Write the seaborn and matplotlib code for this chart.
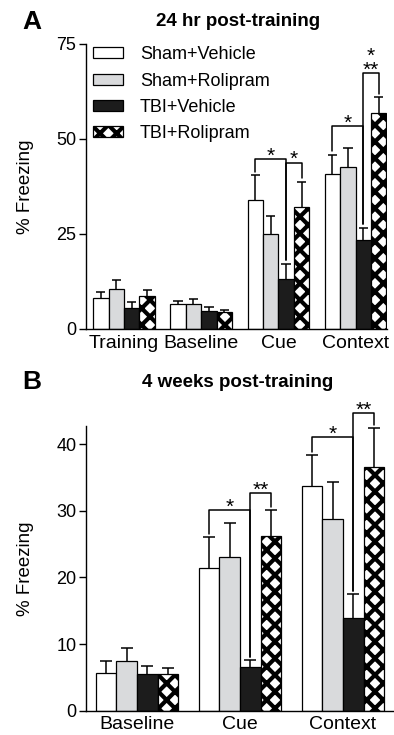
import matplotlib
matplotlib.use('Agg')
import matplotlib.pyplot as plt
import seaborn as sns
import numpy as np
import pandas as pd

# Datos (media y SEM)
groups = ['Sham+Vehicle', 'Sham+Rolipram', 'TBI+Vehicle', 'TBI+Rolipram']
colors = ['white', '#d9dadc', '#1c1c1c', 'white']

# Panel A: 24 hr post-training
phases_a = ['Training', 'Baseline', 'Cue', 'Context']
sham_veh_a = [8.1, 6.6, 33.9, 40.9]
sham_rol_a = [10.4, 6.6, 25.1, 42.5]
tbi_veh_a = [5.6, 4.7, 13.2, 23.5]
tbi_rol_a = [8.8, 4.4, 32.2, 56.8]
sham_veh_a_sem = [1.7, 0.8, 6.5, 5.0]
sham_rol_a_sem = [2.5, 1.2, 4.5, 5.1]
tbi_veh_a_sem = [1.4, 1.0, 4.0, 3.1]
tbi_rol_a_sem = [1.5, 0.6, 6.5, 4.2]
ticks_a = [0, 25, 50, 75]
# (fase, barra izq, barra der, altura, etiqueta)
sig_a = [('Cue', 0, 2, 44.7, '*'), ('Cue', 2, 3, 43.8, '*'),
         ('Context', 0, 2, 53.5, '*'), ('Context', 2, 3, 67.3, '*\n**')]

# Panel B: 4 weeks post-training
phases_b = ['Baseline', 'Cue', 'Context']
sham_veh_b = [5.7, 21.45, 33.75]
sham_rol_b = [7.5, 23.05, 28.7]
tbi_veh_b = [5.5, 6.5, 13.85]
tbi_rol_b = [5.45, 26.25, 36.6]
sham_veh_b_sem = [1.8, 4.55, 4.6]
sham_rol_b_sem = [1.95, 5.1, 5.55]
tbi_veh_b_sem = [1.25, 1.1, 3.65]
tbi_rol_b_sem = [1.0, 3.85, 5.8]
ticks_b = [0, 10, 20, 30, 40]
sig_b = [('Cue', 0, 2, 30.1, '*'), ('Cue', 2, 3, 32.6, '**'),
         ('Context', 0, 2, 41.1, '*'), ('Context', 2, 3, 44.7, '**')]

# Estilo
sns.set_style("ticks")
plt.rcParams['font.family'] = ['Liberation Sans', 'DejaVu Sans']
plt.rcParams['hatch.linewidth'] = 3.0
plt.rcParams['axes.linewidth'] = 1.0
plt.rcParams['axes.edgecolor'] = 'black'
plt.rcParams['text.color'] = 'black'
plt.rcParams['axes.labelcolor'] = 'black'
plt.rcParams['xtick.color'] = 'black'
plt.rcParams['ytick.color'] = 'black'


def long_df(phases, series):
    rows = []
    for g, vals in zip(groups, series):
        for p, v in zip(phases, vals):
            rows.append({'phase': p, 'group': g, 'freezing': v})
    return pd.DataFrame(rows)


def draw_panel(ax, phases, series, sems, ylim, ticks, sigs, show_legend):
    df = long_df(phases, series)
    sns.barplot(data=df, x='phase', y='freezing', hue='group', order=phases,
                hue_order=groups, palette=colors, saturation=1, errorbar=None,
                width=0.8, edgecolor='black', linewidth=0.9, ax=ax,
                legend=False)
    for p in ax.containers[3].patches:
        p.set_hatch('xx')
        p.set_edgecolor('black')

    # Barras de error (solo hacia arriba)
    tops = {}
    for gi, cont in enumerate(ax.containers):
        for ci, p in enumerate(cont.patches):
            xc = p.get_x() + p.get_width() / 2
            h = p.get_height()
            e = sems[gi][ci]
            hw = p.get_width() * 0.3
            ax.vlines(xc, h, h + e, color='black', lw=1.1, zorder=3)
            ax.hlines(h + e, xc - hw, xc + hw, color='black', lw=1.1, zorder=3)
            tops[(phases[ci], gi)] = (xc, h + e)

    # Corchetes de significancia
    gap = ylim * 0.012
    for ph, g1, g2, yb, lab in sigs:
        x1, t1 = tops[(ph, g1)]
        x2, t2 = tops[(ph, g2)]
        ax.plot([x1, x1, x2, x2], [t1 + gap, yb, yb, t2 + gap], color='black',
                lw=1.1, clip_on=False, zorder=4)
        ax.annotate(lab, xy=((x1 + x2) / 2, yb), xytext=(0, -2),
                    textcoords='offset points', ha='center', va='baseline',
                    fontsize=15, linespacing=0.65, annotation_clip=False)

    ax.set_ylim(0, ylim)
    ax.set_yticks(ticks)
    ax.set_xlabel('')
    ax.set_ylabel('% Freezing', fontsize=13.5)
    ax.tick_params(axis='y', labelsize=13, length=5, width=1.0, pad=2)
    ax.tick_params(axis='x', labelsize=14, length=0, pad=4)
    sns.despine(ax=ax)

    if show_legend:
        handles = [c.patches[0] for c in ax.containers]
        ax.legend(handles, groups, loc='upper left', bbox_to_anchor=(0.012, 1.005),
                  frameon=False, fontsize=13, handlelength=1.66,
                  handleheight=0.55, handletextpad=0.92, labelspacing=0.52,
                  borderpad=0.2, borderaxespad=0.0)


fig = plt.figure(figsize=(3.94, 7.35), dpi=100)
ax_a = fig.add_axes([0.2183, 0.5524, 0.764, 0.3878])
ax_b = fig.add_axes([0.2183, 0.0331, 0.7817, 0.3873])

draw_panel(ax_a, phases_a, [sham_veh_a, sham_rol_a, tbi_veh_a, tbi_rol_a],
           [sham_veh_a_sem, sham_rol_a_sem, tbi_veh_a_sem, tbi_rol_a_sem],
           75, ticks_a, sig_a, True)
ax_a.set_xlim(-0.492, 3.407)
ax_a.yaxis.set_label_coords(-0.173, 0.5)

draw_panel(ax_b, phases_b, [sham_veh_b, sham_rol_b, tbi_veh_b, tbi_rol_b],
           [sham_veh_b_sem, sham_rol_b_sem, tbi_veh_b_sem, tbi_rol_b_sem],
           42.7, ticks_b, sig_b, False)
ax_b.set_xlim(-0.495, 2.495)
ax_b.yaxis.set_label_coords(-0.169, 0.5)

fig.text(0.056, 0.970, 'A', fontsize=19, fontweight='bold', ha='left', va='center')
fig.text(0.604, 0.971, '24 hr post-training', fontsize=13.5, fontweight='bold',
         ha='center', va='center')
fig.text(0.056, 0.480, 'B', fontsize=19, fontweight='bold', ha='left', va='center')
fig.text(0.604, 0.480, '4 weeks post-training', fontsize=13.5, fontweight='bold',
         ha='center', va='center')

fig.savefig('out.png', dpi=100)
